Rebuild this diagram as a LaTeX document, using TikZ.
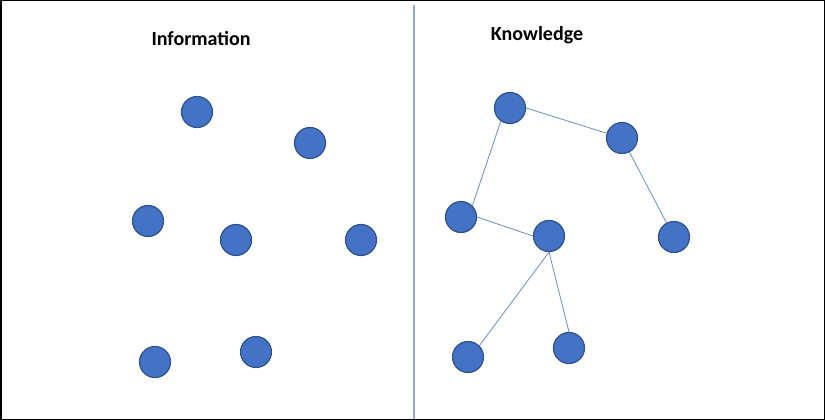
\documentclass[tikz,border=0pt]{standalone}
\usepackage{fontspec}
\setmainfont{Carlito}
\definecolor{dotfill}{RGB}{68,114,196}
\definecolor{dotline}{RGB}{47,82,143}
\definecolor{divider}{RGB}{143,170,220}
\tikzset{dot/.style={circle, fill=dotfill, draw=dotline, line width=1.2pt, minimum size=31pt, inner sep=0pt}}
\tikzset{link/.style={draw=dotfill!80, line width=0.8pt}}
\tikzset{heading/.style={font=\bfseries\fontsize{20}{24}\selectfont, anchor=base}}

\begin{document}
\begin{tikzpicture}[x=1pt, y=-1pt]
    \useasboundingbox (0, 0) rectangle (825, 420);
    \draw[black, line width=1.5pt] (0.75, 0.75) rectangle (824.25, 419.25);
    \coordinate (top) at (414, 5);
    \coordinate (bottom) at (414, 418.5);
    \draw[divider, line width=1.2pt] (top) -- (bottom);
    \node[heading] (info) at (201, 46) {Information};
    \node[heading] (know) at (537, 41) {Knowledge};
    % information side
    \node[dot] (i1) at (197, 112) {};
    \node[dot] (i2) at (310, 143) {};
    \node[dot] (i3) at (148, 221) {};
    \node[dot] (i4) at (236, 240) {};
    \node[dot] (i5) at (361, 240) {};
    \node[dot] (i6) at (155, 362) {};
    \node[dot] (i7) at (256, 352) {};
    % knowledge side
    \node[dot] (k1) at (510, 108) {};
    \node[dot] (k2) at (622, 138) {};
    \node[dot] (k3) at (461, 217) {};
    \node[dot] (k4) at (549, 236) {};
    \node[dot] (k5) at (674, 237) {};
    \node[dot] (k6) at (468, 357) {};
    \node[dot] (k7) at (569, 348) {};
    \draw[link] (k1.east) -- (k2);
    \draw[link] (k1.235) -- (k3.north east);
    \draw[link] (k2) -- (k5);
    \draw[link] (k3.east) -- (k4.west);
    \draw[link] (k4.south) -- (k6.north east);
    \draw[link] (k4.south) -- (k7.north);
\end{tikzpicture}
\end{document}
